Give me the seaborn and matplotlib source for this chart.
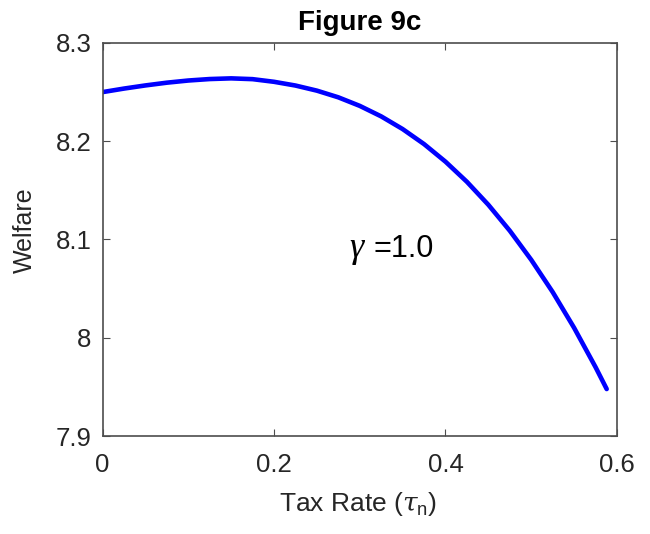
import matplotlib
matplotlib.use("Agg")
import matplotlib.pyplot as plt
import seaborn as sns
import pandas as pd

tax_rate = [0.0, 0.025, 0.05, 0.075, 0.10, 0.125, 0.15, 0.175, 0.20, 0.225, 0.25,
            0.275, 0.30, 0.325, 0.35, 0.375, 0.40, 0.425, 0.45, 0.475, 0.50,
            0.525, 0.55, 0.575, 0.588]
welfare = [8.2500, 8.2536, 8.2568, 8.2596, 8.2618, 8.2633, 8.2640, 8.2632, 8.2605,
           8.2567, 8.2515, 8.2447, 8.2360, 8.2253, 8.2124, 8.1971, 8.1792, 8.1587,
           8.1353, 8.1089, 8.0793, 8.0465, 8.0101, 7.9701, 7.9478]
x_ticks = [0, 0.2, 0.4, 0.6]
x_tick_labels = ["0", "0.2", "0.4", "0.6"]
y_ticks = [7.9, 8.0, 8.1, 8.2, 8.3]
y_tick_labels = ["7.9", "8", "8.1", "8.2", "8.3"]

sns.set_style("white")
plt.rcParams["font.family"] = ["Liberation Sans", "DejaVu Sans"]
plt.rcParams["mathtext.fontset"] = "custom"
plt.rcParams["mathtext.rm"] = "Liberation Sans"
plt.rcParams["mathtext.it"] = "DejaVu Serif:italic"

df = pd.DataFrame({"tax": tax_rate, "welfare": welfare})

fig = plt.figure(figsize=(6.5, 5.34), dpi=100)
ax = fig.add_axes([0.1577, 0.1835, 0.7915, 0.736])
sns.lineplot(data=df, x="tax", y="welfare", ax=ax, color=(0, 0, 1), linewidth=3.3)

ax.set_xlim(0, 0.6)
ax.set_ylim(7.9, 8.3)
ax.set_xticks(x_ticks)
ax.set_xticklabels(x_tick_labels)
ax.set_yticks(y_ticks)
ax.set_yticklabels(y_tick_labels)

edge = "#262626"
for s in ax.spines.values():
    s.set_visible(True)
    s.set_color("#4d4d4d")
    s.set_linewidth(1.2)
ax.tick_params(direction="in", length=5, width=0.8, colors="#4d4d4d", labelsize=18.5,
               top=True, right=True, bottom=True, left=True)
ax.tick_params(axis="x", pad=12)
ax.tick_params(axis="y", pad=8)
for lbl in ax.get_xticklabels() + ax.get_yticklabels():
    lbl.set_color(edge)

ax.set_xlabel(r"Tax Rate ($\tau_{\rm n}$)", fontsize=19, color=edge, va="center")
ax.xaxis.set_label_coords(0.497, -0.172)
ax.set_ylabel("Welfare", fontsize=18, color=edge, va="center")
ax.yaxis.set_label_coords(-0.151, 0.524)
ax.set_title("Figure 9c", fontsize=20, fontweight="bold", color="black", pad=9)

ax.text(0.2875, 8.082, "γ", fontsize=26, family=["Liberation Serif", "DejaVu Serif"],
        style="italic", color="black", va="baseline", ha="left")
ax.text(0.316, 8.082, "=1.0", fontsize=22, color="black", va="baseline", ha="left")

fig.savefig("out.png", dpi=100, facecolor="white")
